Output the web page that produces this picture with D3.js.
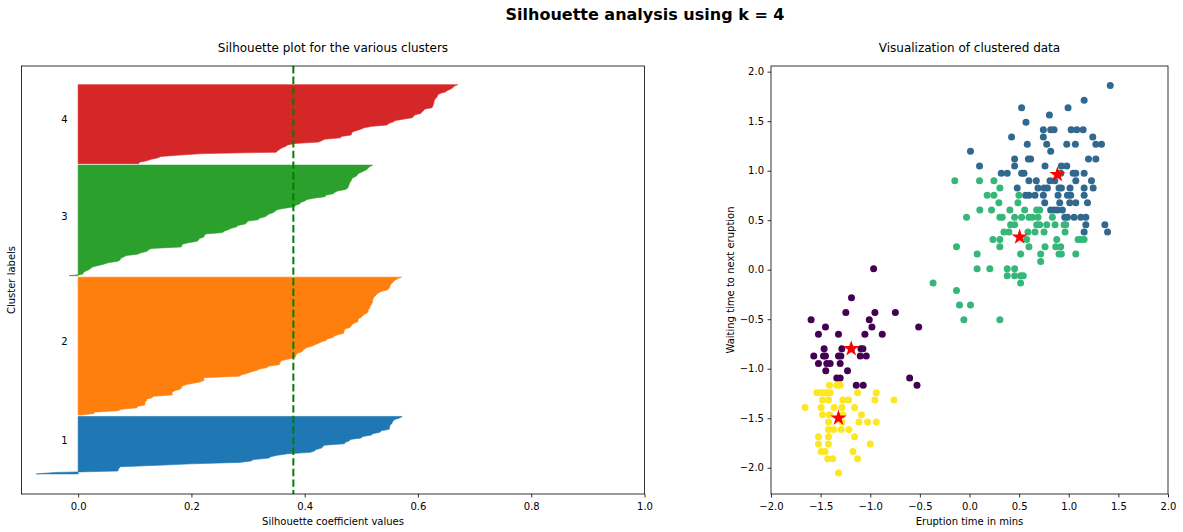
<!DOCTYPE html>
<html><head><meta charset="utf-8">
<script src="https://cdn.jsdelivr.net/npm/d3@7"></script>
<style>
body{margin:0;background:#fff}
svg{display:block}
text{font-family:"DejaVu Sans",sans-serif;fill:#000}
</style>
</head><body>
<svg id="chart" width="1183" height="532"></svg>
<script>
// ---------------- DATA ----------------
const suptitle = "Silhouette analysis using k = 4";
const leftTitle = "Silhouette plot for the various clusters";
const rightTitle = "Visualization of clustered data";
const clusterNames = ["1", "2", "3", "4"];
const clusterColors = ["#1f77b4", "#ff7f0e", "#2ca02c", "#d62728"];

// sorted silhouette coefficients per cluster (ascending)
const sil1 = [-0.074,-0.04,0.07,0.071,0.072,0.075,0.142,0.2,0.285,0.305,0.31,0.337,0.34,0.352,0.37,0.41,0.417,0.42,0.43,0.432,0.435,0.47,0.472,0.479,0.48,0.5,0.502,0.518,0.52,0.533,0.535,0.549,0.55,0.55,0.551,0.554,0.555,0.556,0.56,0.568,0.572];
const sil2 = [0.005,0.028,0.028,0.07,0.077,0.104,0.104,0.118,0.118,0.118,
0.121,0.121,0.13,0.133,0.166,0.166,0.166,0.172,0.18,0.183,
0.183,0.19,0.201,0.215,0.222,0.222,0.222,0.284,0.289,0.299,
0.305,0.315,0.32,0.334,0.335,0.355,0.356,0.357,0.36,0.372,
0.383,0.384,0.385,0.387,0.395,0.397,0.4,0.404,0.414,0.418,
0.425,0.43,0.438,0.44,0.45,0.452,0.46,0.469,0.469,0.47,
0.472,0.48,0.482,0.484,0.488,0.494,0.494,0.495,0.5,0.502,
0.505,0.51,0.512,0.512,0.514,0.515,0.516,0.518,0.519,0.52,
0.52,0.521,0.522,0.525,0.527,0.53,0.535,0.545,0.549,0.55,
0.551,0.552,0.555,0.557,0.56,0.565,0.571];
const sil3 = [-0.016,0.008,0.009,0.012,0.018,0.022,0.025,0.034,0.045,0.053,
0.07,0.074,0.075,0.08,0.085,0.105,0.111,0.122,0.124,0.13,
0.182,0.183,0.185,0.195,0.21,0.213,0.215,0.222,0.223,0.225,
0.255,0.258,0.265,0.27,0.28,0.282,0.295,0.298,0.3,0.318,
0.32,0.33,0.334,0.337,0.345,0.348,0.352,0.365,0.382,0.384,
0.391,0.393,0.4,0.404,0.416,0.436,0.437,0.45,0.453,0.458,
0.472,0.476,0.477,0.478,0.479,0.48,0.482,0.483,0.484,0.49,
0.493,0.494,0.5,0.505,0.51,0.512,0.515,0.52];
const sil4 = [0.107,0.108,0.121,0.129,0.14,0.146,0.18,0.22,0.35,0.352,
0.356,0.36,0.366,0.37,0.382,0.424,0.43,0.435,0.463,0.465,
0.482,0.483,0.484,0.491,0.499,0.505,0.519,0.546,0.548,0.556,
0.56,0.574,0.59,0.592,0.595,0.605,0.607,0.61,0.612,0.625,
0.626,0.627,0.628,0.628,0.629,0.63,0.633,0.634,0.635,0.64,
0.649,0.652,0.658,0.662,0.664,0.67];
const silAverage = 0.38;
const silXTicks = [0, 0.2, 0.4, 0.6, 0.8, 1.0];
const silXTickLabels = ["0.0", "0.2", "0.4", "0.6", "0.8", "1.0"];

// scatter points [eruption (std), waiting (std)] per cluster
const pts0 = [[-0.966,0.010],[-1.189,-0.283],[-1.246,-0.431],[-0.953,-0.431],[-0.747,-0.431],
[-1.596,-0.505],[-1.010,-0.505],[-1.451,-0.579],[-0.983,-0.579],[-0.512,-0.579],
[-1.522,-0.653],[-1.320,-0.653],[-1.054,-0.653],[-0.879,-0.653],
[-1.465,-0.798],[-1.286,-0.798],[-1.192,-0.798],[-1.094,-0.798],[-1.074,-0.798],
[-1.569,-0.872],[-1.471,-0.872],[-1.451,-0.872],[-1.320,-0.872],[-1.296,-0.872],[-1.101,-0.872],[-1.040,-0.872],
[-1.522,-0.946],[-1.438,-0.946],[-1.404,-0.946],[-1.303,-0.946],
[-1.448,-1.020],[-1.229,-1.020],[-1.337,-1.094],[-1.303,-1.094],[-0.603,-1.094],
[-1.141,-1.168],[-1.071,-1.168],[-0.529,-1.168]];
const pts1 = [[1.418,1.859],[1.155,1.710],[0.525,1.636],[0.993,1.636],[0.805,1.562],[0.569,1.488],
[0.744,1.414],[0.818,1.414],[0.852,1.414],[1.024,1.414],[1.081,1.414],[1.145,1.414],
[0.424,1.340],[0.744,1.340],[1.242,1.340],
[0.582,1.266],[0.778,1.266],[0.980,1.266],[1.067,1.266],[1.273,1.266],[1.330,1.266],
[0.010,1.195],[0.818,1.195],
[0.455,1.118],[0.593,1.118],[0.616,1.118],[1.199,1.118],[1.273,1.118],
[0.101,1.047],[0.455,1.047],[0.761,1.047],[0.926,1.047],[0.980,1.047],
[0.320,0.973],[0.380,0.973],[0.525,0.973],[0.549,0.973],[0.920,0.973],[1.044,0.973],[1.071,0.973],[1.155,0.973],
[0.599,0.899],[0.673,0.899],[0.811,0.899],[0.859,0.899],[1.071,0.899],[1.229,0.899],
[0.481,0.825],[0.690,0.825],[0.751,0.825],[0.785,0.825],[0.902,0.825],[0.926,0.825],[1.013,0.825],[1.155,0.825],[1.246,0.825],
[0.566,0.751],[0.599,0.751],[0.660,0.751],[0.744,0.751],[0.892,0.751],[0.987,0.751],[1.020,0.751],[1.155,0.751],
[0.758,0.677],[0.909,0.677],[1.010,0.677],[1.071,0.677],[1.189,0.677],
[0.818,0.603],[0.852,0.603],[0.886,0.603],[0.936,0.603],
[0.960,0.529],[0.987,0.529],[1.054,0.529],[1.121,0.529],[1.172,0.529],
[1.172,0.455],[1.364,0.455],[1.155,0.380],[1.391,0.380]];
const pts2 = [[-0.148,0.899],[0.101,0.899],[0.246,0.899],[0.306,0.825],
[0.178,0.751],[0.246,0.751],[0.498,0.751],[0.296,0.677],[0.488,0.677],
[0.104,0.603],[0.222,0.603],[0.407,0.603],[0.556,0.603],[0.677,0.603],[0.707,0.603],
[-0.030,0.529],[0.306,0.529],[0.330,0.529],[0.455,0.529],[0.525,0.529],[0.599,0.529],[0.633,0.529],[0.690,0.529],[0.835,0.529],
[0.414,0.455],[0.455,0.455],[0.677,0.455],[0.707,0.455],[0.778,0.455],[0.862,0.455],[0.953,0.455],[0.970,0.455],
[0.347,0.380],[0.397,0.380],[0.589,0.380],[0.660,0.380],[0.751,0.380],[0.963,0.380],
[0.236,0.306],[0.306,0.306],[0.576,0.306],[0.879,0.306],[1.094,0.306],[1.121,0.306],[1.155,0.306],
[-0.131,0.232],[0.306,0.232],[0.599,0.232],[0.761,0.232],[0.869,0.232],[0.919,0.232],
[0.077,0.158],[0.515,0.158],[0.717,0.158],[0.902,0.158],[0.926,0.158],[1.071,0.158],
[0.717,0.084],[0.077,0.010],[0.205,0.010],[0.380,0.010],[0.455,0.010],
[0.380,-0.061],[0.455,-0.061],[0.515,-0.061],[0.542,-0.061],
[-0.367,-0.135],[0.515,-0.135],[-0.131,-0.209],[-0.101,-0.357],[0.010,-0.357],
[-0.057,-0.505],[0.306,-0.505]];
const pts3 = [[-1.411,-1.168],[-1.337,-1.168],[-1.303,-1.168],
[-1.539,-1.242],[-1.505,-1.242],[-1.471,-1.242],[-1.438,-1.242],[-1.404,-1.242],[-1.128,-1.242],[-0.939,-1.242],
[-1.481,-1.316],[-1.421,-1.316],[-1.276,-1.316],[-1.219,-1.316],[-0.953,-1.316],[-0.761,-1.316],
[-1.657,-1.391],[-1.495,-1.391],[-1.364,-1.391],[-1.286,-1.391],[-1.158,-1.391],
[-1.481,-1.465],[-1.411,-1.465],[-1.276,-1.465],[-1.088,-1.465],
[-1.421,-1.539],[-1.286,-1.539],[-1.114,-1.539],[-1.027,-1.539],[-0.939,-1.539],
[-1.421,-1.613],[-1.370,-1.613],[-1.293,-1.613],[-1.215,-1.613],
[-1.522,-1.687],[-1.421,-1.687],[-1.158,-1.687],
[-1.522,-1.761],[-1.421,-1.761],[-1.000,-1.761],
[-1.495,-1.835],[-1.455,-1.835],[-1.175,-1.835],
[-1.428,-1.909],[-1.377,-1.909],[-1.128,-1.909],[-1.320,-2.054]];
const centroids = [[-1.192,-0.798],[0.886,0.960],[0.505,0.330],[-1.320,-1.498]];
const scatterColors = ["#440154", "#31688e", "#35b779", "#fde725"];
const scXTicks = [-2, -1.5, -1, -0.5, 0, 0.5, 1, 1.5, 2];
const scXTickLabels = ["\u22122.0","\u22121.5","\u22121.0","\u22120.5","0.0","0.5","1.0","1.5","2.0"];
const scYTicks = [-2, -1.5, -1, -0.5, 0, 0.5, 1, 1.5, 2];
const scYTickLabels = ["\u22122.0","\u22121.5","\u22121.0","\u22120.5","0.0","0.5","1.0","1.5","2.0"];

// ---------------- DRAW ----------------
(function () {
const svg = d3.select("#chart");
const yTop = 66, yBot = 494;
const L = {x0: 21.5, x1: 644.5};
const R = {x0: 771, x1: 1168};

svg.append("text").attr("x", 645).attr("y", 20).attr("text-anchor", "middle")
  .attr("font-size", 16).attr("font-weight", "bold").text(suptitle);

// ---- left: silhouette plot ----
const xs = d3.scaleLinear().domain([-0.1, 1]).range([L.x0, L.x1]);
const ys = d3.scaleLinear().domain([0, 298]).range([yBot, yTop]);
const gL = svg.append("g");
const sils = [sil1, sil2, sil3, sil4];
let yLower = 14;
const area = d3.area().curve(d3.curveLinear)
  .y(d => ys(d.y)).x0(xs(0)).x1(d => xs(d.v));
sils.forEach((vals, i) => {
  const pts = vals.map((v, j) => ({v: v, y: yLower + j}));
  gL.append("path").datum(pts).attr("d", area)
    .attr("fill", clusterColors[i]).attr("stroke", clusterColors[i]).attr("stroke-width", 0.6);
  gL.append("text").attr("x", xs(-0.03)).attr("y", ys(yLower + 0.5 * vals.length))
    .attr("font-size", 10).text(clusterNames[i]);
  yLower += vals.length;
});
gL.append("line").attr("x1", xs(silAverage)).attr("x2", xs(silAverage))
  .attr("y1", ys(298)).attr("y2", ys(0))
  .attr("stroke", "#008000").attr("stroke-width", 2).attr("stroke-dasharray", "7.4,3.2");

const axL = d3.axisBottom(xs).tickValues(silXTicks)
  .tickFormat((d, i) => silXTickLabels[i]).tickSize(3.5).tickPadding(5.4).tickSizeOuter(0);
const gAxL = svg.append("g").attr("transform", `translate(0,${yBot})`).call(axL);
gAxL.select(".domain").remove();
gAxL.selectAll("line").attr("stroke", "#000").attr("stroke-width", 0.8);
gAxL.selectAll("text").attr("font-size", 10).attr("font-family", "DejaVu Sans").attr("fill", "#000");
svg.append("rect").attr("x", L.x0).attr("y", yTop).attr("width", L.x1 - L.x0).attr("height", yBot - yTop)
  .attr("fill", "none").attr("stroke", "#000").attr("stroke-width", 0.8);
svg.append("text").attr("x", (L.x0 + L.x1) / 2).attr("y", 52).attr("text-anchor", "middle")
  .attr("font-size", 12).text(leftTitle);
svg.append("text").attr("x", (L.x0 + L.x1) / 2).attr("y", 525).attr("text-anchor", "middle")
  .attr("font-size", 10).text("Silhouette coefficient values");
svg.append("text").attr("transform", `translate(15,${(yTop + yBot) / 2}) rotate(-90)`)
  .attr("text-anchor", "middle").attr("font-size", 10).text("Cluster labels");

// ---- right: scatter ----
const sx = d3.scaleLinear().domain([-2, 2]).range([R.x0, R.x1]);
const sy = d3.scaleLinear().domain([-2.265, 2.057]).range([yBot, yTop]);
const gR = svg.append("g");
[pts0, pts1, pts2, pts3].forEach((pts, i) => {
  gR.selectAll(null).data(pts).enter().append("circle")
    .attr("cx", d => sx(d[0])).attr("cy", d => sy(d[1])).attr("r", 3.5)
    .attr("fill", scatterColors[i]);
});
const star = d3.symbol().type(d3.symbolStar).size(80);
gR.selectAll(null).data(centroids).enter().append("path")
  .attr("d", star).attr("transform", d => `translate(${sx(d[0])},${sy(d[1])})`)
  .attr("fill", "#ff0000");

const axRx = d3.axisBottom(sx).tickValues(scXTicks)
  .tickFormat((d, i) => scXTickLabels[i]).tickSize(3.5).tickPadding(5.4).tickSizeOuter(0);
const gRx = svg.append("g").attr("transform", `translate(0,${yBot})`).call(axRx);
const axRy = d3.axisLeft(sy).tickValues(scYTicks)
  .tickFormat((d, i) => scYTickLabels[i]).tickSize(3.5).tickPadding(3.5).tickSizeOuter(0);
const gRy = svg.append("g").attr("transform", `translate(${R.x0},0)`).call(axRy);
[gRx, gRy].forEach(g => {
  g.select(".domain").remove();
  g.selectAll("line").attr("stroke", "#000").attr("stroke-width", 0.8);
  g.selectAll("text").attr("font-size", 10).attr("font-family", "DejaVu Sans").attr("fill", "#000");
});
svg.append("rect").attr("x", R.x0).attr("y", yTop).attr("width", R.x1 - R.x0).attr("height", yBot - yTop)
  .attr("fill", "none").attr("stroke", "#000").attr("stroke-width", 0.8);
svg.append("text").attr("x", (R.x0 + R.x1) / 2).attr("y", 52).attr("text-anchor", "middle")
  .attr("font-size", 12).text(rightTitle);
svg.append("text").attr("x", (R.x0 + R.x1) / 2).attr("y", 525).attr("text-anchor", "middle")
  .attr("font-size", 10).text("Eruption time in mins");
svg.append("text").attr("transform", `translate(734,${(yTop + yBot) / 2}) rotate(-90)`)
  .attr("text-anchor", "middle").attr("font-size", 10).text("Waiting time to next eruption");
})();
</script>
</body></html>
